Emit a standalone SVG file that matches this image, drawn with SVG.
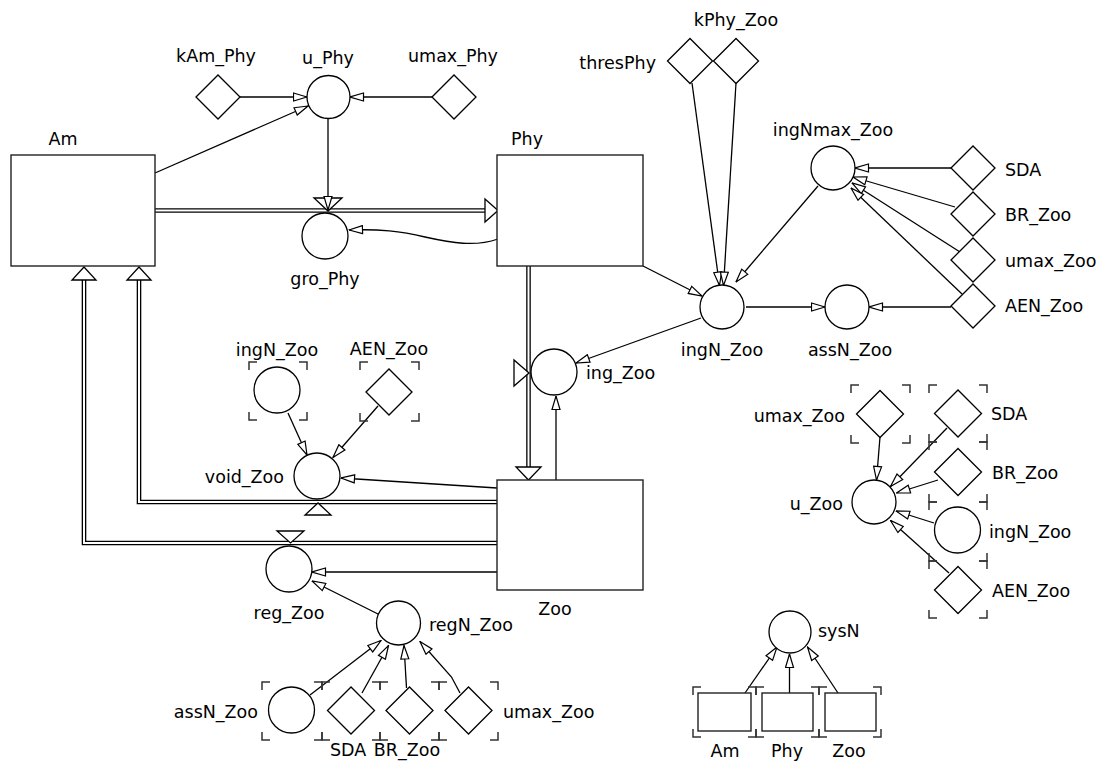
<svg xmlns="http://www.w3.org/2000/svg" width="1105" height="762" viewBox="0 0 1105 762">
<defs>
<style>
.n{fill:#fff;stroke:#000;stroke-width:1.3}
.bx{fill:#fff;stroke:#222;stroke-width:1.4}
.t{font-family:"DejaVu Sans","Liberation Sans",sans-serif;font-size:17.5px;fill:#000}
.m{text-anchor:middle}
.e{text-anchor:end}
.lk{fill:none;stroke:#000;stroke-width:1.3;marker-end:url(#arr)}
.po{fill:none;stroke:#000;stroke-width:4.6}
.pi{fill:none;stroke:#fff;stroke-width:2}
.v{fill:#fff;stroke:#000;stroke-width:1.3}
.br{fill:none;stroke:#333;stroke-width:1.5}
</style>
<marker id="arr" viewBox="0 0 15 10" refX="14.5" refY="5" markerWidth="15" markerHeight="10" markerUnits="userSpaceOnUse" orient="auto">
<path d="M1,1 L14.5,5 L1,9 z" fill="#fff" stroke="#000" stroke-width="1.2"/>
</marker>
</defs>
<rect width="1105" height="762" fill="#fff"/>

<g id="connectors">
<path class="po" d="M155,210.5 H486"/><path class="pi" d="M155,210.5 H486"/>
<polygon class="v" points="485,199 498,210.5 485,222"/>
<path class="po" d="M528.5,266 V468"/><path class="pi" d="M528.5,266 V468"/>
<polygon class="v" points="516,467 541,467 528.5,480"/>
<path class="po" d="M497,502 H139 V280"/><path class="pi" d="M497,502 H139 V280"/>
<polygon class="v" points="127,280 151,280 139,267"/>
<path class="po" d="M497,543 H84 V280"/><path class="pi" d="M497,543 H84 V280"/>
<polygon class="v" points="72,280 96,280 84,267"/>
<polygon class="v" points="314,198 342,198 328,211"/>
<polygon class="v" points="514,360 514,386 529,373"/>
<polygon class="v" points="305,515 331,515 318,503"/>
<polygon class="v" points="277,531 304,531 290.5,543"/>
<path class="lk" d="M240,97 L307,97"/>
<path class="lk" d="M432,97 L350,97"/>
<path class="lk" d="M155,173 L308,106"/>
<path class="lk" d="M328,118 L328,210"/>
<path class="lk" d="M498,239 C475,247 452,243 425,237 C400,231 380,229 349,230"/>
<path class="lk" d="M643,266 L702,296"/>
<path class="lk" d="M692,83 L719.5,285.5"/>
<path class="lk" d="M736,83 L723.5,285.5"/>
<path class="lk" d="M818,186 L736,282"/>
<path class="lk" d="M746,307 L825,307"/>
<path class="lk" d="M951,307 L869,307"/>
<path class="lk" d="M951,168 L855,168"/>
<path class="lk" d="M955,207 L853,177"/>
<path class="lk" d="M960,252 L852,183"/>
<path class="lk" d="M962,294 L851,188"/>
<path class="lk" d="M701,318 L576,363"/>
<path class="lk" d="M556,480 L556,396"/>
<path class="lk" d="M288,413 L307,455"/>
<path class="lk" d="M378,406 L333,457.5"/>
<path class="lk" d="M497,488 L341,478"/>
<path class="lk" d="M497,572 L312,572"/>
<path class="lk" d="M380,615 L312,581"/>
<path class="lk" d="M310,695 L381,640.5"/>
<path class="lk" d="M362,693 L388.5,645.5"/>
<path class="lk" d="M406.5,688 L404,645.5"/>
<path class="lk" d="M460,693 L451.5,677 L420,641.5"/>
<path class="lk" d="M880,437 L876.5,480"/>
<path class="lk" d="M947,428 L890.5,486.5"/>
<path class="lk" d="M938,480 L896.5,493"/>
<path class="lk" d="M934,523 L896,511"/>
<path class="lk" d="M949,573 L890.5,520.5"/>
<path class="lk" d="M745,693 L777,647"/>
<path class="lk" d="M789.5,693 L789.5,654"/>
<path class="lk" d="M838,693 L807.5,647"/>
</g>

<g id="Am"><rect class="bx" x="11" y="155" width="144" height="111"/><text class="t m" x="63" y="145">Am</text></g>
<g id="Phy"><rect class="bx" x="497" y="155" width="146" height="111"/><text class="t m" x="527" y="145">Phy</text></g>
<g id="Zoo"><rect class="bx" x="497" y="480" width="146" height="110"/><text class="t m" x="555" y="615">Zoo</text></g>

<g id="kAm_Phy"><polygon class="n" points="196,97 218,75 240,97 218,119"/><text class="t m" x="216" y="62">kAm_Phy</text></g>
<g id="u_Phy"><circle class="n" cx="328.5" cy="97" r="21.5"/><text class="t m" x="328" y="64">u_Phy</text></g>
<g id="umax_Phy"><polygon class="n" points="432,97 454,75 476,97 454,119"/><text class="t m" x="453" y="62">umax_Phy</text></g>
<g id="gro_Phy"><circle class="n" cx="325" cy="236" r="23"/><text class="t m" x="325" y="285">gro_Phy</text></g>

<g id="thresPhy"><polygon class="n" points="667.5,61 690,38.5 712.5,61 690,83.5"/><text class="t e" x="656" y="69">thresPhy</text></g>
<g id="kPhy_Zoo"><polygon class="n" points="713.5,61 736,38.5 758.5,61 736,83.5"/><text class="t m" x="736" y="26">kPhy_Zoo</text></g>
<g id="ingNmax_Zoo"><circle class="n" cx="833" cy="168" r="22"/><text class="t m" x="833" y="136">ingNmax_Zoo</text></g>
<g id="SDA"><polygon class="n" points="951,168 973,146 995,168 973,190"/><text class="t" x="1005" y="176">SDA</text></g>
<g id="BR_Zoo"><polygon class="n" points="951,214 973,192 995,214 973,236"/><text class="t" x="1005" y="221">BR_Zoo</text></g>
<g id="umax_Zoo"><polygon class="n" points="951,260 973,238 995,260 973,282"/><text class="t" x="1005" y="267">umax_Zoo</text></g>
<g id="AEN_Zoo"><polygon class="n" points="951,306 973,284 995,306 973,328"/><text class="t" x="1005" y="312">AEN_Zoo</text></g>
<g id="ingN_Zoo"><circle class="n" cx="722" cy="307" r="22"/><text class="t m" x="722" y="356">ingN_Zoo</text></g>
<g id="assN_Zoo"><circle class="n" cx="847" cy="307" r="22"/><text class="t m" x="850" y="356">assN_Zoo</text></g>
<g id="ing_Zoo"><circle class="n" cx="554" cy="372" r="23"/><text class="t" x="586" y="379">ing_Zoo</text></g>

<g id="ghost_ingN_Zoo_void"><path class="br" d="M249,370V362H257 M299,362H307V370 M307,412V420H299 M257,420H249V412"/><circle class="n" cx="277" cy="390" r="23"/><text class="t m" x="277" y="356">ingN_Zoo</text></g>
<g id="ghost_AEN_Zoo_void"><path class="br" d="M360,370V362H368 M411,362H419V370 M419,413V421H411 M368,421H360V413"/><polygon class="n" points="366,392 389,369 412,392 389,415"/><text class="t m" x="389" y="355">AEN_Zoo</text></g>
<g id="void_Zoo"><circle class="n" cx="317" cy="476" r="23"/><text class="t e" x="284" y="483">void_Zoo</text></g>
<g id="reg_Zoo"><circle class="n" cx="289" cy="569" r="23"/><text class="t m" x="289" y="619">reg_Zoo</text></g>
<g id="regN_Zoo"><circle class="n" cx="398.5" cy="623" r="22"/><text class="t" x="429" y="631">regN_Zoo</text></g>

<g id="ghost_assN_Zoo"><path class="br" d="M262,690V682H270 M314,682H322V690 M322,732V740H314 M270,740H262V732"/><circle class="n" cx="291.5" cy="710" r="23"/><text class="t e" x="258" y="718">assN_Zoo</text></g>
<g id="ghost_SDA_reg"><path class="br" d="M322,690V682H330 M372,682H380V690 M380,732V740H372 M330,740H322V732"/><polygon class="n" points="327.5,710.5 351,687 374.5,710.5 351,734"/><text class="t m" x="348" y="756">SDA</text></g>
<g id="ghost_BR_Zoo_reg"><path class="br" d="M380,690V682H388 M431,682H439V690 M439,732V740H431 M388,740H380V732"/><polygon class="n" points="386,710.5 409.5,687 433,710.5 409.5,734"/><text class="t m" x="407" y="756">BR_Zoo</text></g>
<g id="ghost_umax_Zoo_reg"><path class="br" d="M439,690V682H447 M490,682H498V690 M498,732V740H490 M447,740H439V732"/><polygon class="n" points="445,710.5 468.5,687 492,710.5 468.5,734"/><text class="t" x="503" y="718">umax_Zoo</text></g>

<g id="u_Zoo"><circle class="n" cx="874" cy="502" r="22"/><text class="t e" x="843" y="510">u_Zoo</text></g>
<g id="ghost_umax_Zoo_u"><path class="br" d="M851,393V385H859 M902,385H910V393 M910,435V443H902 M859,443H851V435"/><polygon class="n" points="856.5,414 880,390.5 903.5,414 880,437.5"/><text class="t e" x="845" y="422">umax_Zoo</text></g>
<g id="ghost_SDA_u"><path class="br" d="M929,393V385H937 M979,385H987V393 M987,434V442H979 M937,442H929V434"/><polygon class="n" points="934.5,413.5 958,390 981.5,413.5 958,437"/><text class="t" x="991" y="420">SDA</text></g>
<g id="ghost_BR_Zoo_u"><path class="br" d="M929,450V442H937 M979,442H987V450 M987,494V502H979 M937,502H929V494"/><polygon class="n" points="934.5,472 958,448.5 981.5,472 958,495.5"/><text class="t" x="992" y="479">BR_Zoo</text></g>
<g id="ghost_ingN_Zoo_u"><path class="br" d="M929,510V502H937 M979,502H987V510 M987,553V561H979 M937,561H929V553"/><circle class="n" cx="957.5" cy="530" r="23"/><text class="t" x="989" y="538">ingN_Zoo</text></g>
<g id="ghost_AEN_Zoo_u"><path class="br" d="M929,569V561H937 M979,561H987V569 M987,610V618H979 M937,618H929V610"/><polygon class="n" points="934.5,590 958,566.5 981.5,590 958,613.5"/><text class="t" x="992" y="597">AEN_Zoo</text></g>

<g id="sysN"><circle class="n" cx="790" cy="632" r="21"/><text class="t" x="818" y="637">sysN</text></g>
<g id="ghost_Am"><path class="br" d="M693,695V687H701 M748,687H756V695 M756,729V737H748 M701,737H693V729"/><rect class="bx" x="698" y="693" width="53" height="38"/><text class="t m" x="725" y="757">Am</text></g>
<g id="ghost_Phy"><path class="br" d="M756,695V687H764 M811,687H819V695 M819,729V737H811 M764,737H756V729"/><rect class="bx" x="762" y="693" width="51" height="38"/><text class="t m" x="787" y="757">Phy</text></g>
<g id="ghost_Zoo"><path class="br" d="M819,695V687H827 M873,687H881V695 M881,729V737H873 M827,737H819V729"/><rect class="bx" x="825" y="693" width="51" height="38"/><text class="t m" x="849" y="757">Zoo</text></g>
</svg>
